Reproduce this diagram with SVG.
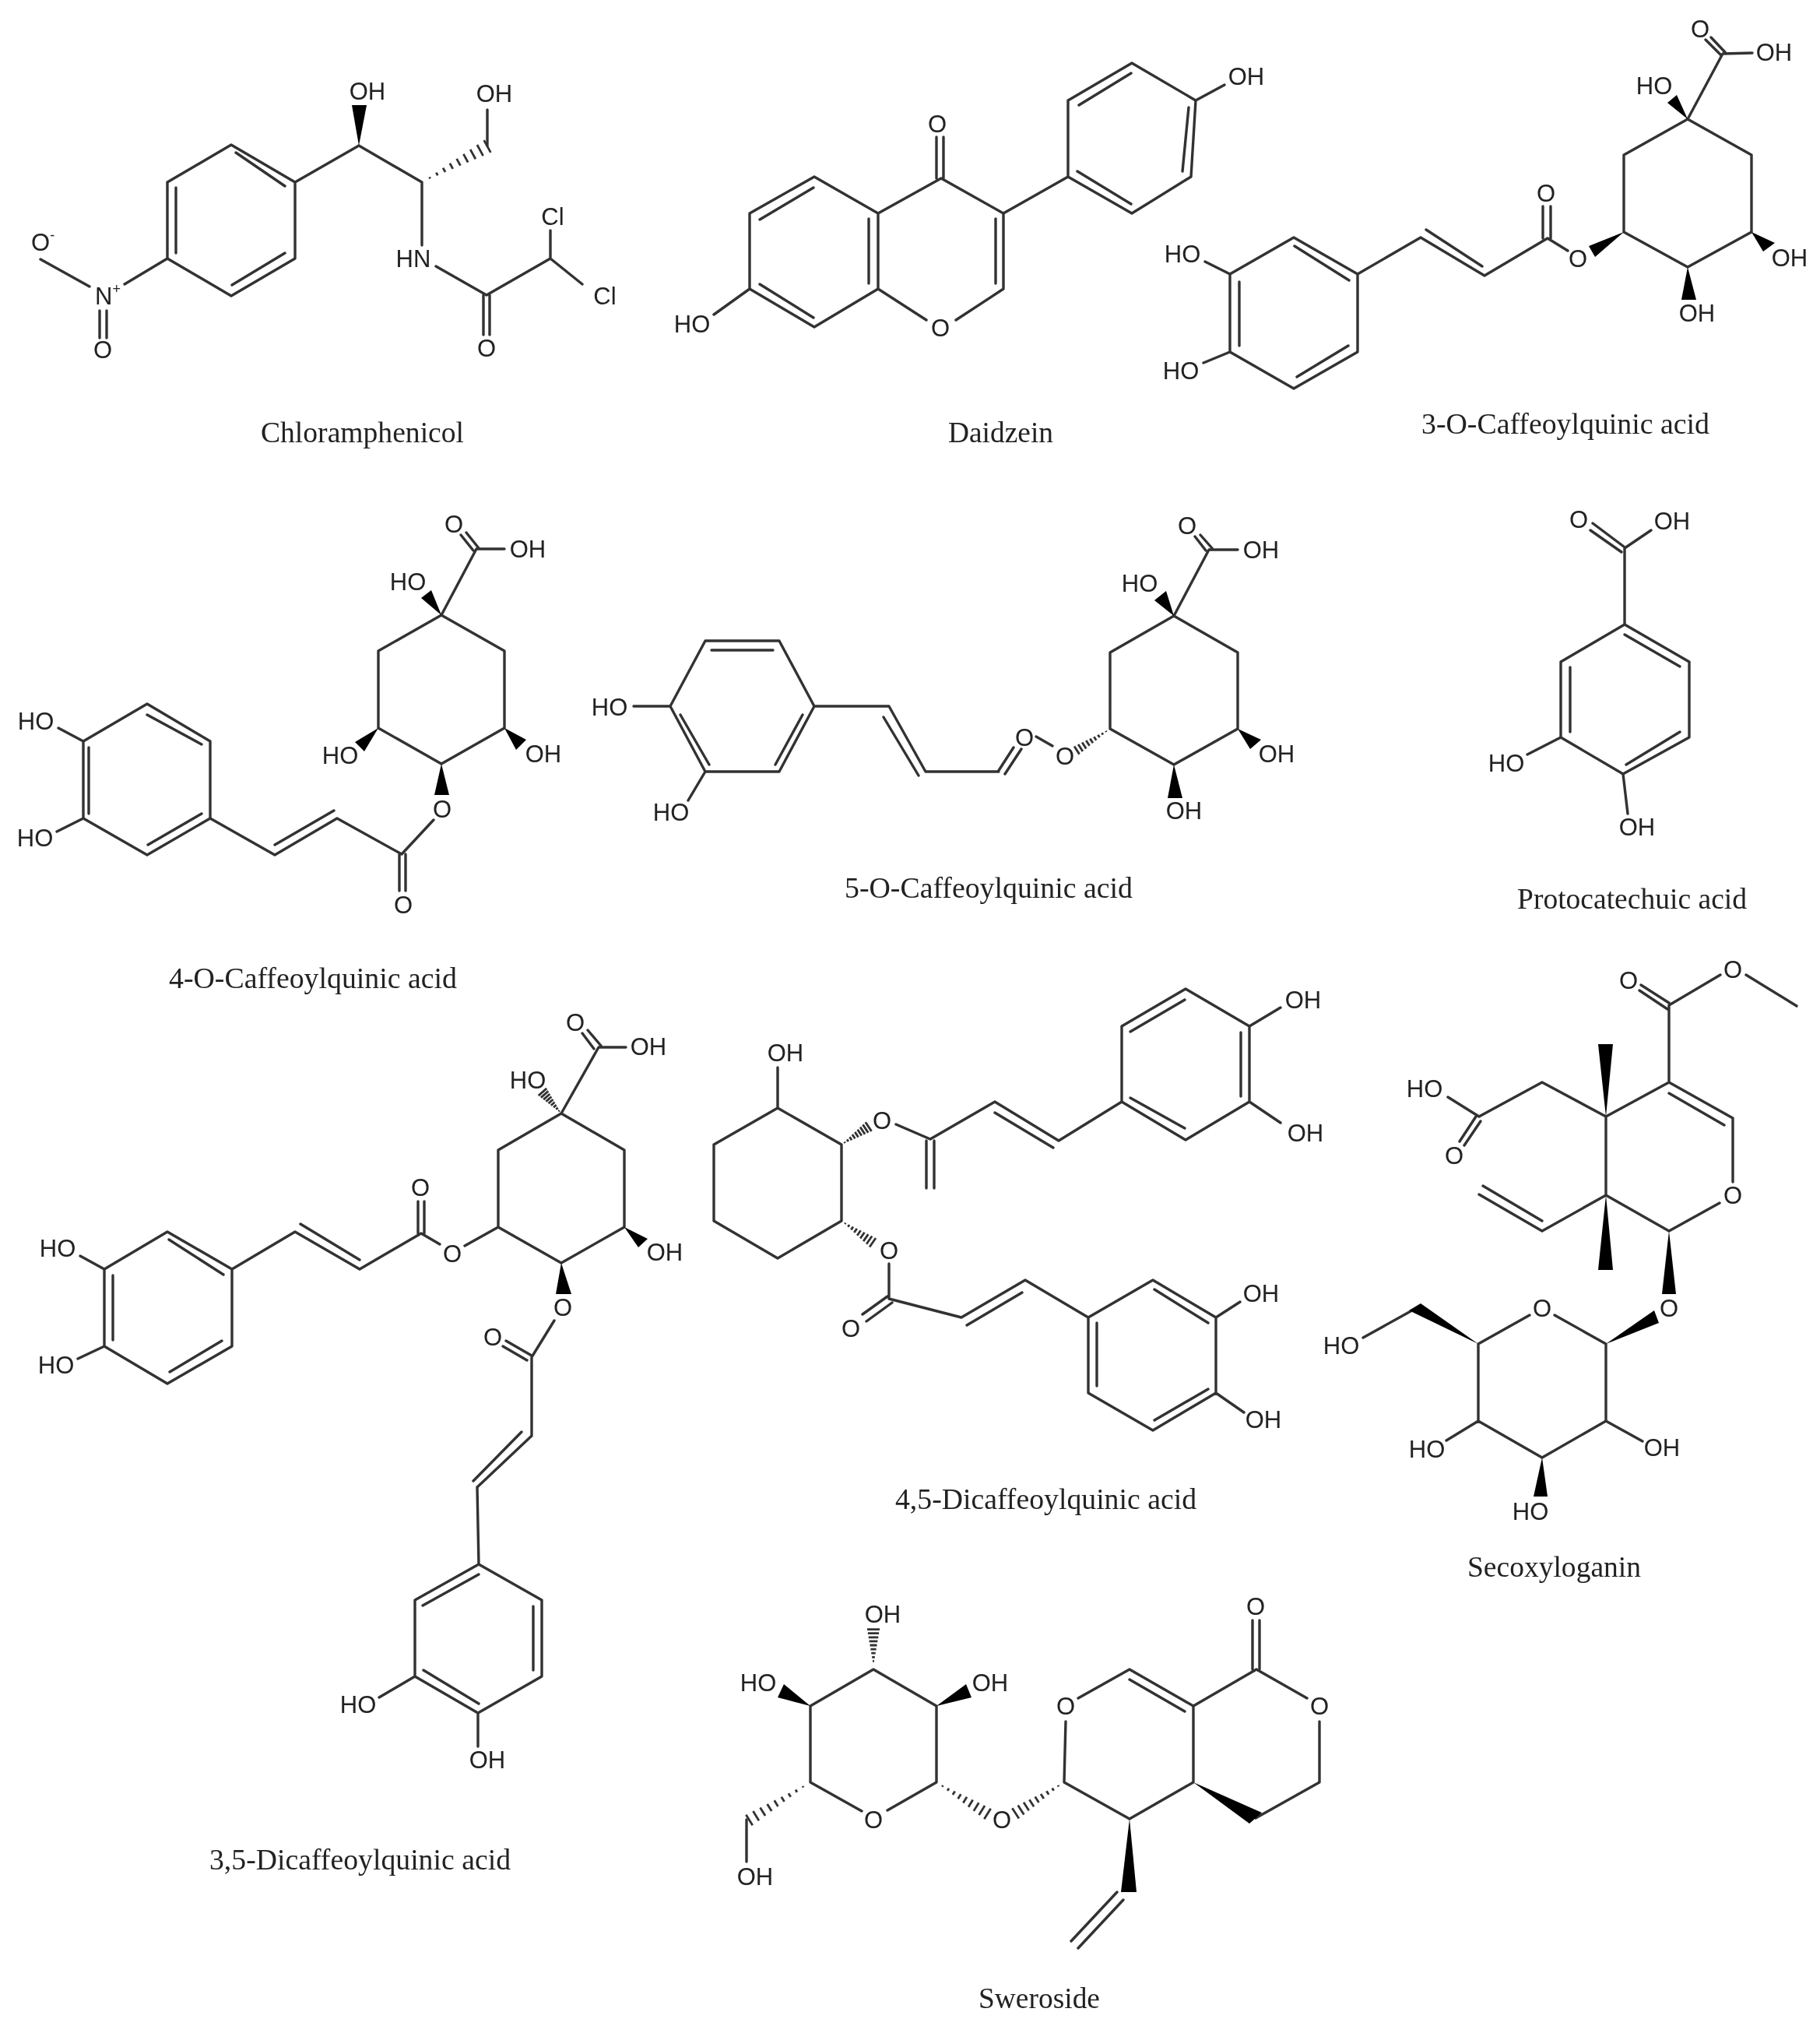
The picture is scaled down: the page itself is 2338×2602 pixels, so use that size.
<svg xmlns="http://www.w3.org/2000/svg" xmlns:xlink="http://www.w3.org/1999/xlink" width="2338" height="2602" viewBox="0 0 2338 2602">
<style>
.b{fill:none;stroke:#333;stroke-width:3.4;stroke-linecap:round;stroke-linejoin:round}
.h{fill:none;stroke:#333;stroke-width:2.8;vector-effect:non-scaling-stroke}
.w{fill:#000}
.a{font-family:"Liberation Sans",Arial,sans-serif;font-size:31px;fill:#222;text-anchor:middle;dominant-baseline:central}
.s{text-anchor:start}
.u{font-size:18px}
.c{font-family:"Liberation Serif","Times New Roman",serif;font-size:37.5px;fill:#222}
</style>
<defs>
<path id="hash" class="h" d="M12 -1.2V1.2M23 -2.3V2.3M34 -3.4V3.4M45 -4.5V4.5M56 -5.6V5.6M67 -6.7V6.7M78 -7.8V7.8M89 -8.9V8.9M100 -10V10"/>
<filter id="soft" filterUnits="userSpaceOnUse" x="0" y="0" width="2338" height="2602"><feGaussianBlur stdDeviation="0.75"/></filter>
</defs>
<rect width="2338" height="2602" fill="#fff"/>
<g filter="url(#soft)">

<g id="chloramphenicol">
<path class="b" d="M297 186L379 234V332L297 380L215 332V234ZM303 196L366 239M226 241V325M298 366L366 325M379 234L461 187L542 234V315M560 342L625 379L707 332V296M707 332L748 365M621 379V430M629 379V430M626 187V141M215 332L160 365M52 333L115 368M128 399V434M137 399V434"/>
<polygon class="w" points="461,187 452,135 471,135"/>
<use xlink:href="#hash" transform="translate(542 234) rotate(-28.7) scale(.958 .9)"/>
<text class="a" x="472" y="117">OH</text><text class="a" x="635" y="120">OH</text><text class="a" x="531" y="332">HN</text><text class="a" x="710" y="278">Cl</text><text class="a" x="777" y="380">Cl</text><text class="a" x="625" y="447">O</text><text class="a" x="132" y="449">O</text>
<text class="a s" x="40" y="311">O<tspan class="u" dy="-9">-</tspan></text>
<text class="a s" x="122" y="380">N<tspan class="u" dy="-9">+</tspan></text>
<text class="c" x="335" y="568" textLength="261" lengthAdjust="spacingAndGlyphs">Chloramphenicol</text>
</g>

<g id="daidzein">
<path class="b" d="M1046 227L1128 274V371L1046 420L963 371V274ZM976 282L1045 241M976 365L1045 408M1116 281V364M1128 274L1209 229L1289 274V371L1228 411M1190 411L1128 371M1279 281V364M1203 229V176M1212 229V176M1289 274L1372 227M1372 227V129L1454 81L1536 129L1530 227L1454 274ZM1386 135L1453 94M1384 220L1453 262M1527 138L1519 220M1536 129L1573 109M963 371L917 404"/>
<text class="a" x="1204" y="159">O</text><text class="a" x="1208" y="421">O</text><text class="a" x="889" y="416">HO</text><text class="a" x="1601" y="98">OH</text>
<text class="c" x="1218" y="568" textLength="135" lengthAdjust="spacingAndGlyphs">Daidzein</text>
</g>

<g id="cqa3">
<path class="b" d="M1662 305L1744 352V452L1662 499L1580 452V352ZM1663 316L1733 360M1592 362V444M1666 484L1732 444M1580 352L1548 336M1580 452L1546 466M1744 352L1825 305L1907 354L1988 306L2014 322M1832 295L1904 342M1982 306V265M1992 306V265M2168 153L2250 199V298L2168 343L2086 298V199ZM2168 153L2213 69L2251 68M2216 67L2198 48M2210 70L2191 51"/>
<polygon class="w" points="2086,298 2041,316 2049,330"/>
<polygon class="w" points="2250,298 2280,312 2265,323"/>
<polygon class="w" points="2168,343 2160,385 2179,385"/>
<polygon class="w" points="2168,153 2142,132 2154,122"/>
<text class="a" x="1519" y="326">HO</text><text class="a" x="1517" y="476">HO</text><text class="a" x="1986" y="248">O</text><text class="a" x="2027" y="332">O</text><text class="a" x="2299" y="331">OH</text><text class="a" x="2180" y="402">OH</text><text class="a" x="2125" y="110">HO</text><text class="a" x="2184" y="37">O</text><text class="a" x="2279" y="67">OH</text>
<text class="c" x="1826" y="557" textLength="370" lengthAdjust="spacingAndGlyphs">3-O-Caffeoylquinic acid</text>
</g>

<g id="cqa4">
<path class="b" d="M189 904L270 952V1051L189 1098L107 1051V952ZM189 918L259 956M114 960V1045M190 1085L259 1045M107 952L75 935M107 1051L73 1068M270 1051L353 1098L433 1051L516 1097L557 1053M353 1085L429 1041M513 1097V1144M521 1097V1144M567 790L648 836V935L567 981L486 935V836ZM567 790L612 705L648 705M615 704L599 684M608 707L592 687"/>
<polygon class="w" points="567,981 558,1021 577,1021"/>
<polygon class="w" points="486,935 456,953 468,965"/>
<polygon class="w" points="648,935 676,950 663,963"/>
<polygon class="w" points="567,790 541,768 554,758"/>
<text class="a" x="46" y="926">HO</text><text class="a" x="45" y="1076">HO</text><text class="a" x="518" y="1162">O</text><text class="a" x="568" y="1039">O</text><text class="a" x="437" y="970">HO</text><text class="a" x="698" y="968">OH</text><text class="a" x="524" y="747">HO</text><text class="a" x="583" y="673">O</text><text class="a" x="678" y="705">OH</text>
<text class="c" x="217" y="1269" textLength="370" lengthAdjust="spacingAndGlyphs">4-O-Caffeoylquinic acid</text>
</g>

<g id="cqa5">
<path class="b" d="M906 823H1001L1046 907L1001 991H906L861 907ZM914 835H993M1031 918L996 982M874 918L911 982M814 907H861M906 991L884 1028M1046 907H1142L1189 991H1283M1135 921L1180 996M1282 991L1302 960M1291 994L1312 962M1331 946L1352 958M1508 791L1590 838V936L1508 982L1426 936V838ZM1508 791L1553 706H1590M1557 704L1542 687M1549 707L1535 689"/>
<polygon class="w" points="1590,936 1620,950 1606,962"/>
<polygon class="w" points="1508,982 1500,1025 1519,1025"/>
<polygon class="w" points="1508,791 1483,771 1498,759"/>
<use xlink:href="#hash" transform="translate(1426 936) rotate(147.1) scale(.508 .6)"/>
<text class="a" x="783" y="908">HO</text><text class="a" x="862" y="1043">HO</text><text class="a" x="1316" y="947">O</text><text class="a" x="1368" y="971">O</text><text class="a" x="1640" y="968">OH</text><text class="a" x="1521" y="1041">OH</text><text class="a" x="1464" y="749">HO</text><text class="a" x="1525" y="675">O</text><text class="a" x="1620" y="706">OH</text>
<text class="c" x="1085" y="1153" textLength="370" lengthAdjust="spacingAndGlyphs">5-O-Caffeoylquinic acid</text>
</g>

<g id="protocatechuic">
<path class="b" d="M2087 802L2170 850V947L2085 994L2005 947V850ZM2087 815L2158 856M2017 857V940M2089 982L2158 940M2087 704V802M2086 702L2046 672M2083 709L2043 681M2087 704L2121 681M2005 947L1962 969M2085 994L2091 1045"/>
<text class="a" x="2028" y="667">O</text><text class="a" x="2148" y="669">OH</text><text class="a" x="1935" y="980">HO</text><text class="a" x="2103" y="1062">OH</text>
<text class="c" x="1949" y="1167" textLength="295" lengthAdjust="spacingAndGlyphs">Protocatechuic acid</text>
</g>

<g id="dcqa35">
<path class="b" d="M215 1582L298 1630V1729L215 1777L134 1729V1630ZM217 1592L287 1637M145 1638V1721M218 1762L285 1722M134 1630L103 1613M134 1729L100 1745M298 1630L379 1582L462 1630L541 1584L565 1598M386 1572L462 1618M537 1584V1543M545 1584V1543M597 1600L640 1576M721 1430L802 1477V1576L721 1622L640 1576V1477ZM721 1430L769 1345H804M772 1343L755 1323M763 1347L748 1327M712 1696L683 1743V1844L613 1910M683 1741L650 1722M677 1747L646 1729M670 1839L608 1902M613 1910L615 2009M615 2009L696 2055V2153L614 2200L533 2153V2055ZM543 2062L615 2022M685 2063V2145M544 2145L615 2188M533 2153L487 2180M614 2200V2243"/>
<polygon class="w" points="802,1576 832,1591 820,1602"/>
<polygon class="w" points="721,1622 714,1662 734,1662"/>
<use xlink:href="#hash" transform="translate(721 1430) rotate(-131.1) scale(.365 .7)"/>
<text class="a" x="74" y="1603">HO</text><text class="a" x="72" y="1753">HO</text><text class="a" x="540" y="1525">O</text><text class="a" x="581" y="1610">O</text><text class="a" x="854" y="1608">OH</text><text class="a" x="723" y="1679">O</text><text class="a" x="633" y="1717">O</text><text class="a" x="678" y="1387">HO</text><text class="a" x="739" y="1313">O</text><text class="a" x="833" y="1344">OH</text><text class="a" x="460" y="2189">HO</text><text class="a" x="626" y="2260">OH</text>
<text class="c" x="269" y="2401" textLength="387" lengthAdjust="spacingAndGlyphs">3,5-Dicaffeoylquinic acid</text>
</g>

<g id="dcqa45">
<path class="b" d="M999 1423L1081 1470V1568L999 1616L917 1568V1470ZM999 1423V1371M1151 1444L1195 1463L1278 1415L1360 1465L1441 1415M1190 1465V1526M1200 1465V1526M1278 1429L1353 1474M1441 1415V1318L1523 1270L1605 1318V1415L1523 1464ZM1452 1325L1522 1284M1594 1326V1408M1452 1410L1522 1449M1605 1318L1645 1294M1605 1415L1645 1442M1142 1623V1668L1235 1692L1317 1644L1398 1692M1140 1665L1108 1688M1146 1673L1113 1697M1242 1702L1313 1660M1398 1692V1789L1481 1837L1562 1789V1692L1481 1644ZM1409 1699V1780M1483 1656L1552 1699M1483 1824L1552 1784M1562 1692L1593 1672M1562 1789L1598 1814"/>
<use xlink:href="#hash" transform="translate(1081 1470) rotate(-33.5) scale(.416 .7)"/>
<use xlink:href="#hash" transform="translate(1081 1568) rotate(34.7) scale(.487 .7)"/>
<text class="a" x="1009" y="1352">OH</text><text class="a" x="1133" y="1439">O</text><text class="a" x="1674" y="1284">OH</text><text class="a" x="1677" y="1455">OH</text><text class="a" x="1142" y="1606">O</text><text class="a" x="1093" y="1706">O</text><text class="a" x="1620" y="1661">OH</text><text class="a" x="1623" y="1823">OH</text>
<text class="c" x="1150" y="1938" textLength="387" lengthAdjust="spacingAndGlyphs">4,5-Dicaffeoylquinic acid</text>
</g>

<g id="secoxyloganin">
<path class="b" d="M2063 1434L2144 1390L2226 1436V1518M2209 1545L2144 1581L2063 1535V1434M2144 1404L2215 1445M2144 1390V1291L2210 1252M2144 1288L2108 1265M2142 1296L2106 1272M2243 1252L2308 1292M2063 1434L1981 1390L1900 1434L1860 1409M1902 1440L1881 1471M1896 1434L1875 1466M2063 1535L1981 1581L1900 1534M1981 1568L1905 1523M1997 1689L2063 1726V1825L1981 1872L1899 1825V1726L1965 1689M1814 1683L1751 1718M2063 1825L2110 1851M1899 1825L1858 1850"/>
<polygon class="w" points="2063,1434 2053,1341 2072,1341"/>
<polygon class="w" points="2063,1535 2053,1631 2072,1631"/>
<polygon class="w" points="2144,1581 2135,1662 2153,1662"/>
<polygon class="w" points="2063,1726 2125,1683 2131,1699"/>
<polygon class="w" points="1899,1726 1810,1683 1825,1674"/>
<polygon class="w" points="1981,1872 1970,1922 1988,1922"/>
<text class="a" x="2092" y="1259">O</text><text class="a" x="2226" y="1245">O</text><text class="a" x="2226" y="1535">O</text><text class="a" x="1830" y="1398">HO</text><text class="a" x="1868" y="1484">O</text><text class="a" x="2144" y="1680">O</text><text class="a" x="1981" y="1680">O</text><text class="a" x="1723" y="1728">HO</text><text class="a" x="2135" y="1859">OH</text><text class="a" x="1833" y="1861">HO</text><text class="a" x="1966" y="1941">HO</text>
<text class="c" x="1885" y="2025" textLength="223" lengthAdjust="spacingAndGlyphs">Secoxyloganin</text>
</g>

<g id="sweroside">
<path class="b" d="M1140 2325L1203 2289V2191L1122 2144L1041 2191V2289L1107 2326M959 2337V2391M1369 2211L1367 2289L1451 2336L1533 2289V2191L1451 2144L1385 2181M1451 2157L1522 2198M1533 2191L1614 2144L1679 2181M1609 2144V2081M1618 2144V2081M1695 2211V2289L1613 2335M1443 2440L1385 2502M1435 2430L1376 2493"/>
<polygon class="w" points="1041,2191 1007,2163 999,2180"/>
<polygon class="w" points="1203,2191 1241,2163 1248,2180"/>
<polygon class="w" points="1533,2289 1621,2328 1605,2342"/>
<polygon class="w" points="1451,2336 1440,2430 1460,2430"/>
<use xlink:href="#hash" transform="translate(1122 2139) rotate(-90) scale(.464 .8)"/>
<use xlink:href="#hash" transform="translate(1041 2289) rotate(148.3) scale(.922 .8)"/>
<use xlink:href="#hash" transform="translate(1203 2289) rotate(31.7) scale(.77 .8)"/>
<use xlink:href="#hash" transform="translate(1367 2289) rotate(147.4) scale(.74 .8)"/>
<text class="a" x="1134" y="2073">OH</text><text class="a" x="974" y="2161">HO</text><text class="a" x="1272" y="2161">OH</text><text class="a" x="1122" y="2337">O</text><text class="a" x="970" y="2410">OH</text><text class="a" x="1287" y="2337">O</text><text class="a" x="1369" y="2191">O</text><text class="a" x="1613" y="2063">O</text><text class="a" x="1695" y="2191">O</text>
<text class="c" x="1257" y="2579" textLength="156" lengthAdjust="spacingAndGlyphs">Sweroside</text>
</g>
</g>
</svg>
